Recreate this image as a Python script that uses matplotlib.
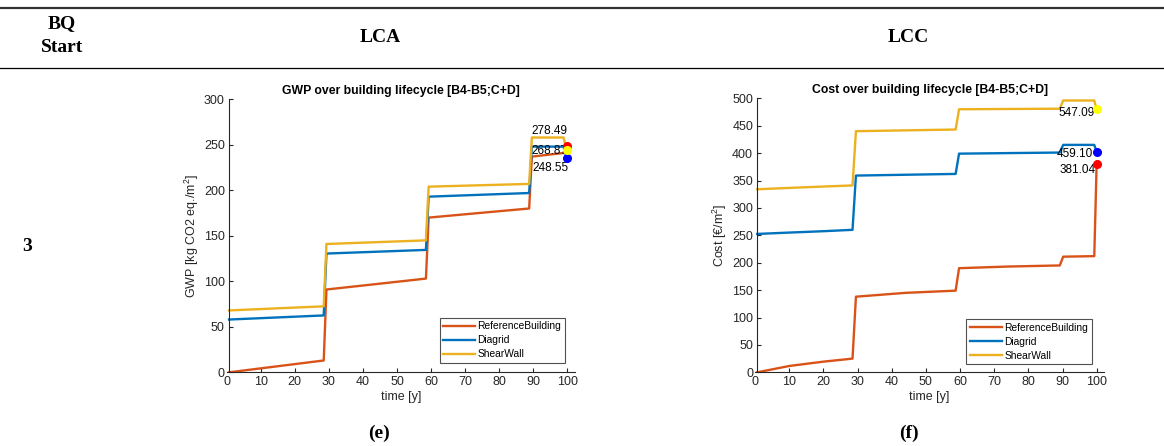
import matplotlib
matplotlib.use("Agg")
import matplotlib.pyplot as plt

plt.rcParams['font.family'] = ['Liberation Sans', 'DejaVu Sans']
plt.rcParams['mathtext.fontset'] = 'custom'
plt.rcParams['mathtext.rm'] = 'Liberation Sans'
plt.rcParams['mathtext.it'] = 'Liberation Sans:italic'

# GWP over lifecycle (kg CO2 eq./m2)
gwp_years = [0.7, 28.5, 29.3, 44, 58.5, 59.3, 74, 88.8, 89.6, 98.9, 99.8]
gwp_ref = [0, 13, 91, 97, 103, 170, 175, 180, 237, 241, 249]
gwp_diagrid = [58, 62.5, 130.5, 132.5, 134.5, 193, 195, 197, 248, 248, 235]
gwp_shear = [68, 72.5, 141, 143, 145, 204, 205.5, 207, 258, 258, 244]
gwp_labels = ['278.49', '268.87', '248.55']

# Cost over lifecycle (EUR/m2)
cost_years = [0.6, 10, 20, 28.5, 29.5, 44, 58.7, 59.7, 74, 89.2, 90.2, 99.3, 100]
cost_ref = [0, 11.6, 19.5, 25, 138, 145, 149, 190, 193, 195, 211, 212, 381]
cost_diagrid = [252.5, 255, 257.5, 260, 359, 360.5, 362, 399, 400, 401, 415, 415, 402]
cost_shear = [334, 336.5, 339, 341, 440, 441.5, 443, 480, 480.5, 481, 496, 496, 480]
cost_labels = ['547.09', '459.10', '381.04']

series_names = ['ReferenceBuilding', 'Diagrid', 'ShearWall']
line_colors = ['#D95319', '#0072BD', '#EDB120']
dot_colors = ['red', 'blue', 'yellow']
dark = '#262626'
fs = 9

fig = plt.figure(figsize=(11.64, 4.46), dpi=100)


def style_axes(ax, xmax, ymax, ystep, spine_x):
    ax.set_xlim(0, xmax)
    ax.set_ylim(0, ymax)
    ax.spines['top'].set_visible(False)
    ax.spines['right'].set_visible(False)
    ax.spines['left'].set_position(('data', spine_x))
    for s in ['left', 'bottom']:
        ax.spines[s].set_color(dark)
        ax.spines[s].set_linewidth(0.8)
    ax.set_xticks(range(0, 101, 10))
    ax.set_yticks(range(0, ymax + 1, ystep))
    ax.tick_params(direction='in', length=3, width=0.8, colors=dark,
                   labelsize=fs, pad=3)
    ax.xaxis.get_major_ticks()[0].tick1line.set_visible(False)
    ax.set_xlabel('time [y]', fontsize=fs, color=dark, labelpad=2)


def add_legend(ax, anchor):
    leg = ax.legend(loc='lower right', fontsize=7.4, frameon=True, fancybox=False,
                    handlelength=3.1, handletextpad=0.25, borderpad=0.35,
                    labelspacing=0.38, bbox_to_anchor=anchor, borderaxespad=0)
    leg.get_frame().set_edgecolor(dark)
    leg.get_frame().set_linewidth(0.8)


# LCA chart
ax1 = fig.add_axes([0.1947, 0.1652, 0.2997, 0.6122])
for ys, name, c in zip([gwp_ref, gwp_diagrid, gwp_shear], series_names, line_colors):
    ax1.plot(gwp_years, ys, color=c, lw=1.7, label=name)
style_axes(ax1, 102.4, 300, 50, 0.7)
ax1.set_ylabel('GWP [kg CO2 eq./m$^2$]', fontsize=fs, color=dark, labelpad=2)
ax1.set_title('GWP over building lifecycle [B4-B5;C+D]', fontsize=8.8,
              fontweight='bold', pad=4)
ax1.text(100, 265, gwp_labels[0], ha='right', va='center', fontsize=8.5)
ax1.text(100, 243.6, gwp_labels[1], ha='right', va='center', fontsize=8.5)
ax1.text(100.3, 225, gwp_labels[2], ha='right', va='center', fontsize=8.5)
for ys, c in zip([gwp_ref, gwp_diagrid, gwp_shear], dot_colors):
    ax1.plot(gwp_years[-1], ys[-1], 'o', color=c, ms=5.5, zorder=5)
add_legend(ax1, (0.97, 0.035))

# LCC chart
ax2 = fig.add_axes([0.6488, 0.1652, 0.2998, 0.6144])
for ys, name, c in zip([cost_ref, cost_diagrid, cost_shear], series_names, line_colors):
    ax2.plot(cost_years, ys, color=c, lw=1.7, label=name)
style_axes(ax2, 102.2, 500, 50, 0.6)
ax2.set_ylabel('Cost [€/m$^2$]', fontsize=fs, color=dark, labelpad=2)
ax2.set_title('Cost over building lifecycle [B4-B5;C+D]', fontsize=8.8,
              fontweight='bold', pad=4)
ax2.text(99.3, 472.6, cost_labels[0], ha='right', va='center', fontsize=8.5)
ax2.text(99.0, 398, cost_labels[1], ha='right', va='center', fontsize=8.5)
ax2.text(99.8, 370, cost_labels[2], ha='right', va='center', fontsize=8.5)
for ys, c in zip([cost_ref, cost_diagrid, cost_shear], dot_colors):
    ax2.plot(cost_years[-1], ys[-1], 'o', color=c, ms=5.5, zorder=5)
add_legend(ax2, (0.965, 0.03))

# table frame
serif = ['Liberation Serif', 'DejaVu Serif']
fig.add_artist(plt.Line2D([0, 1], [1 - 7.5 / 446] * 2, color='#333333', lw=1.6))
fig.add_artist(plt.Line2D([0, 1], [1 - 68 / 446] * 2, color='black', lw=0.9))
hdr = dict(ha='center', va='center', fontsize=14, fontweight='bold', family=serif)
fig.text(62 / 1164, 1 - 24 / 446, 'BQ', **hdr)
fig.text(62 / 1164, 1 - 48 / 446, 'Start', **hdr)
fig.text(380 / 1164, 1 - 38 / 446, 'LCA', **hdr)
fig.text(908 / 1164, 1 - 38 / 446, 'LCC', **hdr)
fig.text(27 / 1164, 1 - 246 / 446, '3', **hdr)
fig.text(379 / 1164, 1 - 433 / 446, '(e)', **hdr)
fig.text(909 / 1164, 1 - 433 / 446, '(f)', **hdr)

fig.savefig('out.png', dpi=100)
